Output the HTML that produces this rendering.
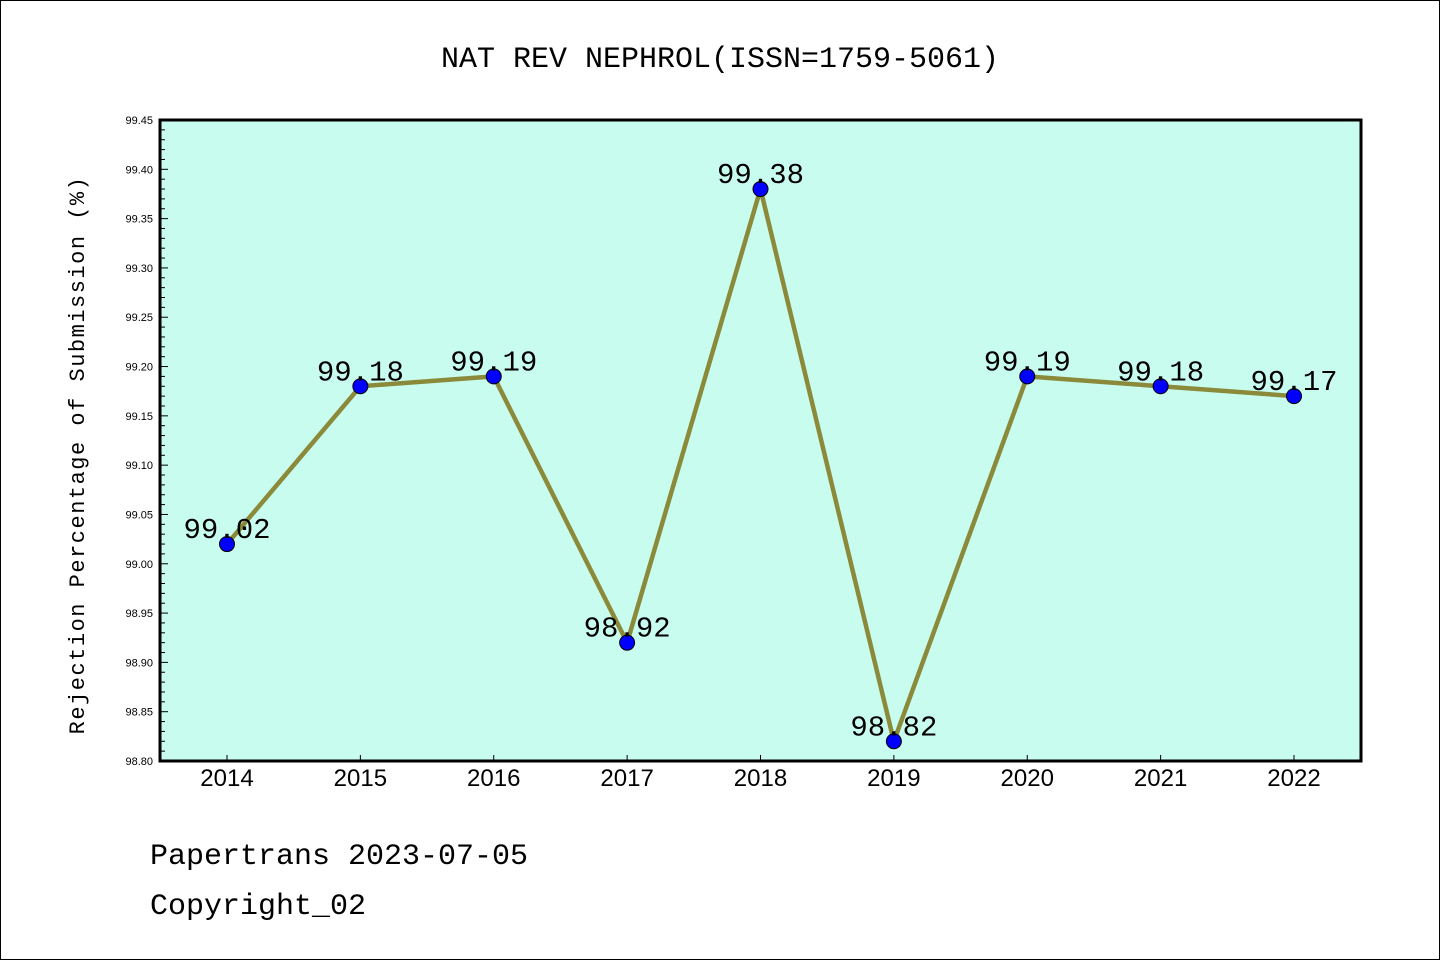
<!DOCTYPE html>
<html><head><meta charset="utf-8"><style>
html,body{margin:0;padding:0;background:#fff}
svg{display:block}
.mono{font-family:"Liberation Mono","DejaVu Sans Mono",monospace}
</style></head><body>
<svg id="chart" width="1440" height="960">
<rect x="0.5" y="0.5" width="1439" height="959" fill="#fff" stroke="#000"/>
<text class="mono" x="720" y="67" text-anchor="middle" font-size="30">NAT REV NEPHROL(ISSN=1759-5061)</text>
<rect x="160" y="120" width="1201" height="641" fill="#c8fcee"/>
<g id="axes"></g>
<g id="marks"></g>
<rect x="160" y="120" width="1201" height="641" fill="none" stroke="#000" stroke-width="3"/>
<text class="mono" transform="translate(84,455) rotate(-90)" text-anchor="middle" font-size="22" letter-spacing="1.5">Rejection Percentage of Submission (%)</text>
<text class="mono" x="150" y="864" font-size="30">Papertrans 2023-07-05</text>
<text class="mono" x="150" y="914" font-size="30">Copyright_02</text>
</svg>
<script>
const years = ["2014","2015","2016","2017","2018","2019","2020","2021","2022"];
const values = [99.02,99.18,99.19,98.92,99.38,98.82,99.19,99.18,99.17];
const yTicks = ["98.80","98.85","98.90","98.95","99.00","99.05","99.10","99.15","99.20","99.25","99.30","99.35","99.40","99.45"];
const yMin=98.80,yMax=99.45,plotTop=120,plotBot=761,plotLeft=160;
const ns="http://www.w3.org/2000/svg";
function yS(v){return plotBot-(v-yMin)/(yMax-yMin)*(plotBot-plotTop);}
function xS(i){return 227+i*(1294-227)/(years.length-1);}
function mk(tag,attrs,parent){const e=document.createElementNS(ns,tag);for(const k in attrs)e.setAttribute(k,attrs[k]);parent.appendChild(e);return e;}
const axes=document.getElementById('axes'),marks=document.getElementById('marks');
for(let k=0;k<=65;k++){
  const v=yMin+k*0.01,y=yS(v),major=k%5===0;
  const t=mk('line',{x1:plotLeft,x2:plotLeft+(major?8:5),y1:y,y2:y,stroke:'#000','stroke-width':1},axes);
  
  
}
yTicks.forEach(s=>{
  const t=mk('text',{x:153,y:yS(parseFloat(s))+4,'text-anchor':'end',style:'font-family:"Liberation Sans",sans-serif;font-size:11px'},axes);
  t.textContent=s;
  
  
});
years.forEach((yr,i)=>{
  const x=xS(i);
  const tk=mk('line',{x1:x,x2:x,y1:plotBot,y2:plotBot-6,stroke:'#000','stroke-width':1},axes);
  
  
  const t=mk('text',{x:x,y:plotBot+25,'text-anchor':'middle',style:'font-family:"Liberation Sans",sans-serif;font-size:24px'},axes);
  t.textContent=yr;
  
  
});
const pts=values.map((v,i)=>xS(i)+','+yS(v)).join(' ');
const line=mk('polyline',{points:pts,fill:'none',stroke:'#8b8a3a','stroke-width':4.5},marks);


values.forEach((v,i)=>{
  const c=mk('circle',{cx:xS(i),cy:yS(v),r:7.5,fill:'#0000ff',stroke:'#000','stroke-width':1},marks);
  
  
  const t=mk('text',{class:'mono',x:xS(i),y:yS(v)-6,'text-anchor':'middle','font-size':29},marks);
  t.textContent=v.toFixed(2);
  
  
});
</script>
</body></html>
